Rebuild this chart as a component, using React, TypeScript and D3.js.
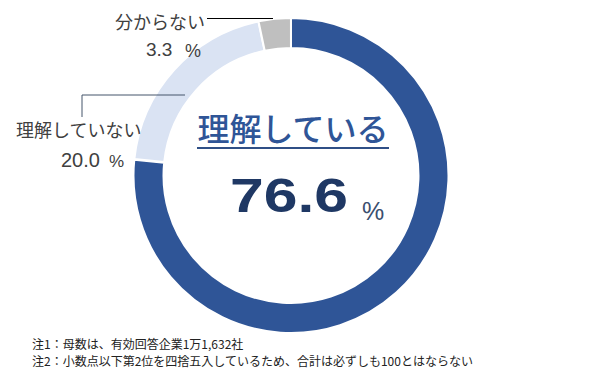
import React from "react";
import * as d3 from "d3";

const categories = ["理解している", "理解していない", "分からない"];
const values = [76.6, 20.0, 3.3];
const colors = ["#2F5597", "#DAE3F3", "#BFBFBF"];
const notes = [
  "注1：母数は、有効回答企業1万1,632社",
  "注2：小数点以下第2位を四捨五入しているため、合計は必ずしも100とはならない",
];

const W = 595;
const H = 376;
const cx = 291;
const cy = 175.5;
const R = 157.5;
const r = 127.5;
const FONT = "'Noto Sans CJK JP', 'Noto Sans', sans-serif";
const NUMFONT = "'Liberation Sans', Arial, sans-serif";

export default function App() {
  const pie = d3.pie<number>().sort(null).value((d) => d)(values);
  const arc = d3.arc<d3.PieArcDatum<number>>().innerRadius(r).outerRadius(R);
  const total = 100;
  const fmt = d3.format(".1f");
  return (
    <svg
      width={W}
      height={H}
      style={{ position: "absolute", left: 0, top: 0, background: "#fff" }}
      fontFamily={FONT}
    >
      <g transform={`translate(${cx},${cy})`}>
        {pie.map((p, i) => {
          const d = { ...p, endAngle: p.startAngle + (values[i] / total) * 2 * Math.PI };
          return (
            <path key={i} d={arc(d) || ""} fill={colors[i]} stroke="#fff" strokeWidth={2} />
          );
        })}
      </g>
      {/* leader lines */}
      <line x1={207} y1={18.5} x2={273} y2={18.5} stroke="#000" strokeWidth={1} />
      <polyline points="185,95 82,95 82,117" fill="none" stroke="#44546A" strokeWidth={1} />
      {/* outer labels */}
      <text x={205} y={29} textAnchor="end" fontSize={18} fill="#404040">{categories[2]}</text>
      <text x={146} y={56} fontSize={19} fill="#404040" fontFamily={NUMFONT}>{fmt(values[2])}</text>
      <text x={185} y={57} fontSize={18} fill="#404040" fontFamily={NUMFONT}>%</text>
      <text x={16} y={137} fontSize={18} fill="#404040">{categories[1]}</text>
      <text x={61} y={167} fontSize={20} fill="#404040" fontFamily={NUMFONT}>{fmt(values[1])}</text>
      <text x={109} y={167} fontSize={17} fill="#404040" fontFamily={NUMFONT}>%</text>
      {/* center */}
      <text x={293} y={141} textAnchor="middle" fontSize={32} fontWeight={500} fill="#2F5597">{categories[0]}</text>
      <line x1={197} y1={148} x2={389} y2={148} stroke="#2F4F86" strokeWidth={2} />
      <text
        x={230}
        y={212}
        fontSize={48}
        fontWeight="bold"
        fill="#1F3864"
        fontFamily={NUMFONT}
        textLength={118}
        lengthAdjust="spacingAndGlyphs"
      >
        {fmt(values[0])}
      </text>
      <text x={362} y={220} fontSize={25} fill="#3B4E6E" fontFamily={NUMFONT}>%</text>
      {/* notes */}
      {notes.map((t, i) => (
        <text key={i} x={32} y={349 + i * 17} fontSize={12} fill="#222">{t}</text>
      ))}
    </svg>
  );
}
